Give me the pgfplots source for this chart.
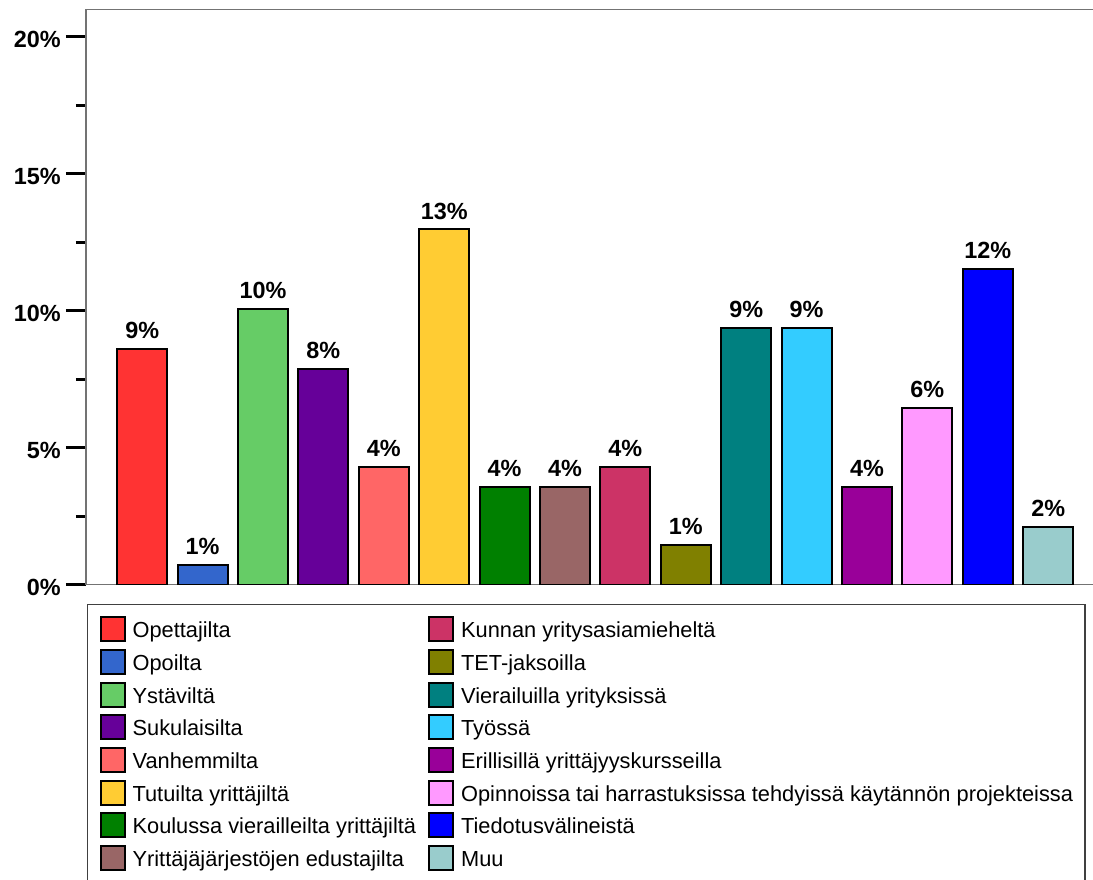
\documentclass[border=0pt]{standalone}
\usepackage{fontspec}
\setmainfont{Liberation Sans}
\usepackage{pgfplots}
\pgfplotsset{compat=1.18}
\definecolor{c1}{HTML}{FF3333}
\definecolor{c2}{HTML}{3366CC}
\definecolor{c3}{HTML}{66CC66}
\definecolor{c4}{HTML}{660099}
\definecolor{c5}{HTML}{FF6666}
\definecolor{c6}{HTML}{FFCC33}
\definecolor{c7}{HTML}{008000}
\definecolor{c8}{HTML}{996666}
\definecolor{c9}{HTML}{CC3366}
\definecolor{c10}{HTML}{808000}
\definecolor{c11}{HTML}{008080}
\definecolor{c12}{HTML}{33CCFF}
\definecolor{c13}{HTML}{990099}
\definecolor{c14}{HTML}{FF99FF}
\definecolor{c15}{HTML}{0000FF}
\definecolor{c16}{HTML}{99CCCC}
\begin{document}
\begin{tikzpicture}
\begin{axis}[
  scale only axis,
  x=30.2pt, y=13.7pt,
  xmin=-0.93, xmax=15.93,
  ymin=0, ymax=21,
  xtick=\empty,
  ytick={0,5,10,15,20},
  minor ytick={2.5,7.5,12.5,17.5},
  ytick pos=left,
  tick align=outside,
  major tick length=10pt,
  minor tick length=5pt,
  every tick/.style={black, line width=1.5pt},
  axis line style={draw=black!55, line width=0.6pt},
  /pgf/number format/assume math mode=true,
  yticklabel={\pgfmathprintnumber{\tick}\%},
  yticklabel style={font=\fontsize{11.7}{14}\selectfont\bfseries, inner sep=0pt, xshift=-2.5pt, yshift=-1.5pt},
  every axis plot/.append style={ybar, bar width=25pt, bar shift=0pt, draw=black, line width=1pt, point meta=y},
  nodes near coords={\pgfmathprintnumber[fixed,precision=0]{\pgfplotspointmeta}\%},
  every node near coord/.append style={font=\fontsize{11.7}{14}\selectfont\bfseries, inner sep=0pt, anchor=south, yshift=4.5pt, text=black},
  legend columns=8, transpose legend,
  legend cell align=left,
  legend image code/.code={\draw[#1] (0pt,-2.5pt) rectangle (12pt,9.5pt);},
  legend style={at={(0,0)}, anchor=north west, yshift=-9.75pt, xshift=0.5pt,
    draw=black!75, line width=0.6pt, inner xsep=6pt, inner ysep=5.8pt,
    font=\fontsize{10.9}{13}\selectfont,
    nodes={inner sep=0pt},
    row sep=3.35pt,
    /tikz/every odd column/.style={column sep=3.5pt},
    /tikz/every even column/.style={column sep=6pt, yshift=2.5pt}},
]
\addplot[fill=c1] coordinates {(0,8.60)};
\addlegendentry{Opettajilta}
\addplot[fill=c2] coordinates {(1,0.71)};
\addlegendentry{Opoilta}
\addplot[fill=c3] coordinates {(2,10.05)};
\addlegendentry{Ystäviltä}
\addplot[fill=c4] coordinates {(3,7.86)};
\addlegendentry{Sukulaisilta}
\addplot[fill=c5] coordinates {(4,4.29)};
\addlegendentry{Vanhemmilta}
\addplot[fill=c6] coordinates {(5,12.96)};
\addlegendentry{Tutuilta yrittäjiltä}
\addplot[fill=c7] coordinates {(6,3.56)};
\addlegendentry{Koulussa vierailleilta yrittäjiltä}
\addplot[fill=c8] coordinates {(7,3.56)};
\addlegendentry{Yrittäjäjärjestöjen edustajilta}
\addplot[fill=c9] coordinates {(8,4.29)};
\addlegendentry{Kunnan yritysasiamieheltä}
\addplot[fill=c10] coordinates {(9,1.44)};
\addlegendentry{TET-jaksoilla}
\addplot[fill=c11] coordinates {(10,9.36)};
\addlegendentry{Vierailuilla yrityksissä}
\addplot[fill=c12] coordinates {(11,9.36)};
\addlegendentry{Työssä}
\addplot[fill=c13] coordinates {(12,3.56)};
\addlegendentry{Erillisillä yrittäjyyskursseilla}
\addplot[fill=c14] coordinates {(13,6.46)};
\addlegendentry{Opinnoissa tai harrastuksissa tehdyissä käytännön projekteissa}
\addplot[fill=c15] coordinates {(14,11.51)};
\addlegendentry{Tiedotusvälineistä}
\addplot[fill=c16] coordinates {(15,2.10)};
\addlegendentry{Muu}
\coordinate (O) at (rel axis cs:0,0);
\end{axis}
\pgfresetboundingbox
\path[use as bounding box] ([shift={(-43pt,292.25pt)}]O) rectangle ([shift={(503.5pt,-147.25pt)}]O);
\end{tikzpicture}
\end{document}
